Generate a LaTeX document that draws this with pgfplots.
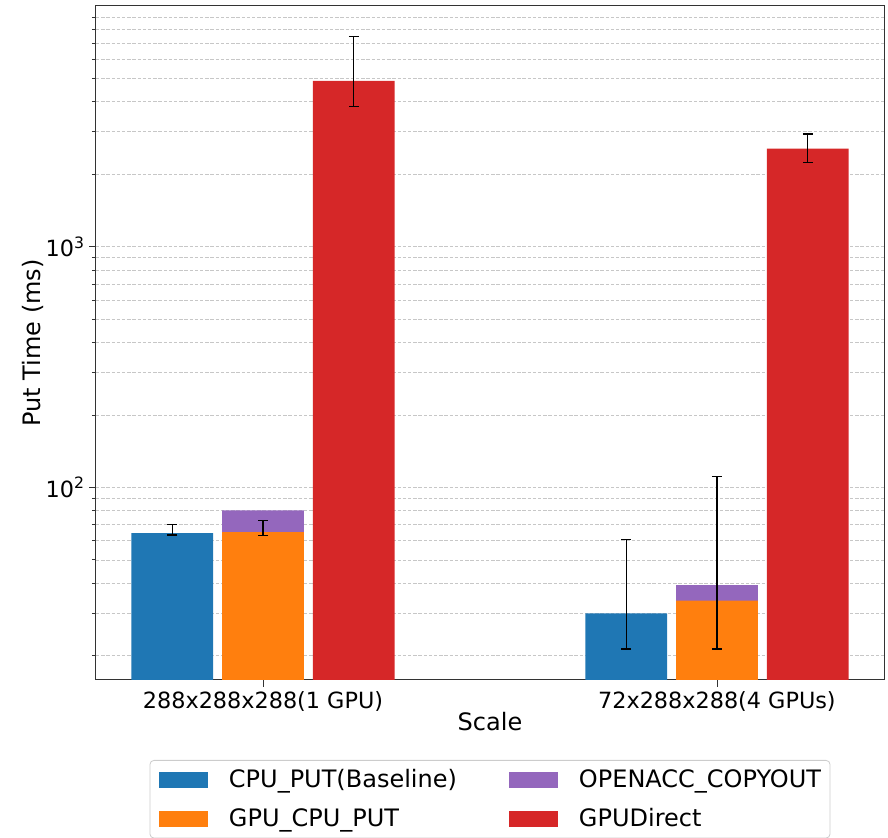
\documentclass[border=0pt]{standalone}
\usepackage{fontspec}
\setmainfont{DejaVu Sans}
\usepackage{pgfplots}
\pgfplotsset{compat=1.18}
\definecolor{tabblue}{HTML}{1F77B4}
\definecolor{taborange}{HTML}{FF7F0E}
\definecolor{tabred}{HTML}{D62728}
\definecolor{tabpurple}{HTML}{9467BD}
\begin{document}
\begin{tikzpicture}
\begin{axis}[
  at={(0,0)}, anchor=south west,
  scale only axis, width=591pt, height=505.5pt,
  ymode=log, ymin=15.85, ymax=10000,
  xmin=-0.368, xmax=1.368,
  xtick={0,1}, xticklabels={288x288x288(1 GPU),72x288x288(4 GPUs)},
  ytick={100,1000}, yticklabels={10\textsuperscript{2},10\textsuperscript{3}},
  minor ytick={20,30,40,50,60,70,80,90,200,300,400,500,600,700,800,900,2000,3000,4000,5000,6000,7000,8000,9000},
  ymajorgrids, yminorgrids,
  major grid style={black!22, dash pattern=on 2.6pt off 1.3pt, line width=0.55pt},
  minor grid style={black!22, dash pattern=on 2.6pt off 1.3pt, line width=0.55pt},
  tick align=outside, tick pos=left,
  major tick length=5pt, minor tick length=3pt,
  tick style={black!80, line width=0.6pt},
  axis line style={black!80, line width=0.75pt},
  ticklabel style={font=\fontsize{16.75}{19}\selectfont},
  xlabel={Scale}, ylabel={Put Time (ms)},
  xlabel style={font=\fontsize{18}{21}\selectfont, at={(axis description cs:0.5,0)}, anchor=north, yshift=-24pt, inner sep=0pt},
  ylabel style={font=\fontsize{18}{21}\selectfont, at={(axis description cs:0,0.5)}, anchor=center, yshift=47.25pt, inner sep=0pt},
  legend columns=2,
  legend image code/.code={\fill[#1, sharp corners] (0pt,-6pt) rectangle (36.75pt,6pt);},
  legend style={at={(0.5,0)}, anchor=north, yshift=-60pt,
    draw=black!20, line width=0.6pt, rounded corners=3pt,
    inner xsep=6.75pt, inner ysep=5.5pt,
    column sep=15.75pt, row sep=11.25pt,
    font=\fontsize{18}{21}\selectfont,
    nodes={inner xsep=0pt, inner ysep=0pt, text height=15pt, text depth=3pt}},
  legend cell align=left,
]
\addlegendimage{fill=tabblue, draw=none}
\addlegendentry{\makebox[194.25pt][l]{CPU\_PUT(Baseline)}}
\addlegendimage{fill=tabpurple, draw=none}
\addlegendentry{OPENACC\_COPYOUT}
\addlegendimage{fill=taborange, draw=none}
\addlegendentry{\makebox[194.25pt][l]{GPU\_CPU\_PUT}}
\addlegendimage{fill=tabred, draw=none}
\addlegendentry{GPUDirect}

% CPU_PUT(Baseline)
\addplot[ybar, bar width=0.18, bar shift=0pt, fill=tabblue, draw=none, forget plot,
  error bars/.cd, y dir=both, y explicit,
  error bar style={black, line width=0.9pt},
  error mark options={rotate=90, mark size=3.75pt, black, line width=0.9pt}]
  coordinates {(-0.2,64.6) += (0,5.7) -= (0,1.2)
               (0.8,30.0) += (0,31.0) -= (0,8.7)};
% OPENACC_COPYOUT (stacked top = GPU_CPU_PUT + OPENACC_COPYOUT)
\addplot[ybar, bar width=0.18, bar shift=0pt, fill=tabpurple, draw=none, forget plot]
  coordinates {(0,80.2) (1,39.3)};
% GPU_CPU_PUT
\addplot[ybar, bar width=0.18, bar shift=0pt, fill=taborange, draw=none, forget plot,
  error bars/.cd, y dir=both, y explicit,
  error bar style={black, line width=0.9pt},
  error mark options={rotate=90, mark size=3.75pt, black, line width=0.9pt}]
  coordinates {(0,65.2) += (0,7.7) -= (0,2.1)
               (1,33.9) += (0,77.1) -= (0,12.6)};
% GPUDirect
\addplot[ybar, bar width=0.18, bar shift=0pt, fill=tabred, draw=none, forget plot,
  error bars/.cd, y dir=both, y explicit,
  error bar style={black, line width=0.9pt},
  error mark options={rotate=90, mark size=3.75pt, black, line width=0.9pt}]
  coordinates {(0.2,4885) += (0,2595) -= (0,1074)
               (1.2,2557) += (0,381) -= (0,324)};
\end{axis}
\pgfresetboundingbox
\useasboundingbox (-72pt,-118.5pt) rectangle (594pt,510pt);
\end{tikzpicture}
\end{document}
